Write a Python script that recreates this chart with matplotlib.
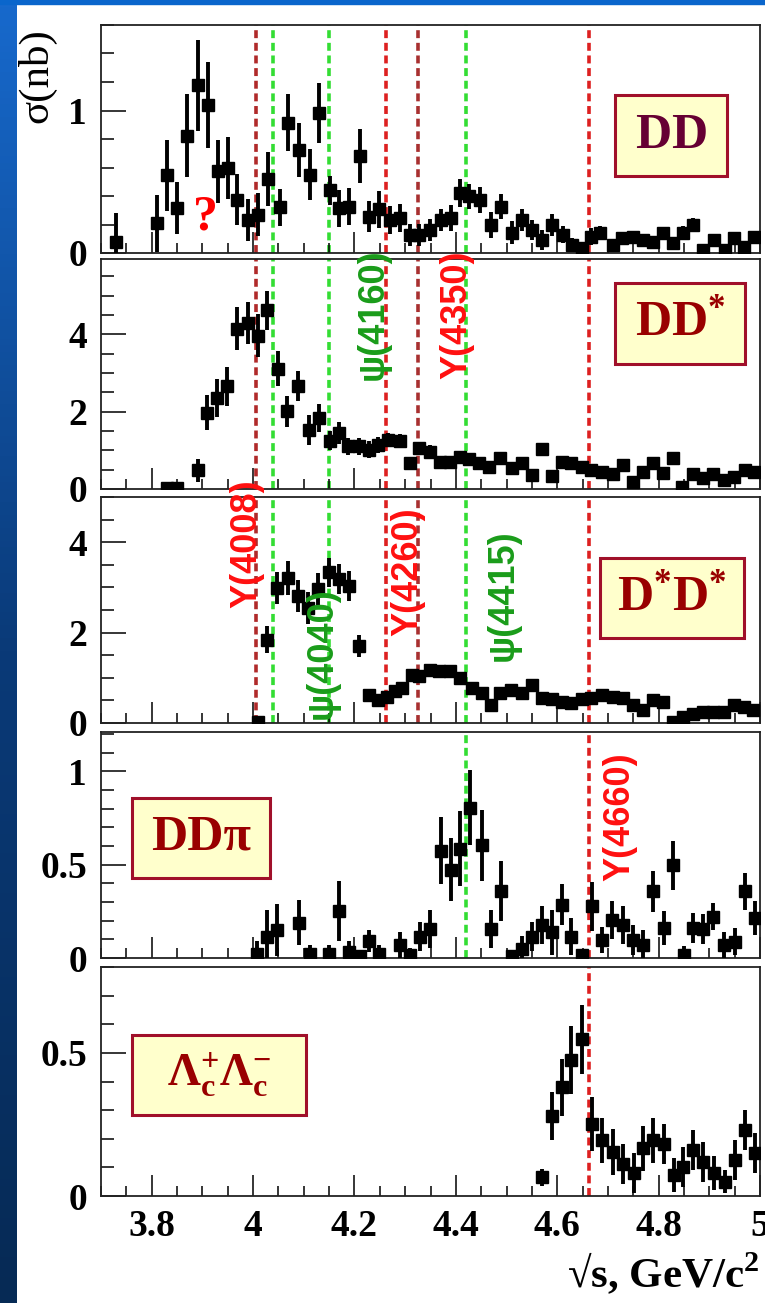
import numpy as np
import matplotlib
matplotlib.use('Agg')
import matplotlib.pyplot as plt
from matplotlib.patches import Rectangle
from matplotlib.colors import LinearSegmentedColormap
from matplotlib.ticker import MultipleLocator, FuncFormatter

plt.rcParams['mathtext.fontset'] = 'custom'
plt.rcParams['mathtext.rm'] = 'Liberation Serif'
plt.rcParams['mathtext.bf'] = 'Liberation Serif:bold'

# DD
dd_x = [3.729, 3.810, 3.830, 3.849, 3.870, 3.892, 3.912, 3.931, 3.951, 3.969, 3.990,
        4.010, 4.030, 4.053, 4.069, 4.091, 4.112, 4.131, 4.152, 4.170, 4.189, 4.210,
        4.229, 4.249, 4.270, 4.290, 4.310, 4.328, 4.349, 4.371, 4.390, 4.408, 4.426,
        4.448, 4.469, 4.490, 4.510, 4.530, 4.551, 4.570, 4.590, 4.611, 4.630, 4.648,
        4.666, 4.684, 4.710, 4.727, 4.750, 4.770, 4.789, 4.809, 4.829, 4.849, 4.868,
        4.888, 4.910, 4.930, 4.949, 4.969, 4.989]
dd_y = [0.08, 0.21, 0.545, 0.315, 0.824, 1.176, 1.04, 0.573, 0.596, 0.373, 0.232,
        0.268, 0.52, 0.32, 0.913, 0.725, 0.55, 0.98, 0.44, 0.315, 0.326, 0.68,
        0.256, 0.307, 0.23, 0.244, 0.127, 0.127, 0.162, 0.232, 0.244, 0.42, 0.397,
        0.373, 0.197, 0.326, 0.143, 0.232, 0.162, 0.092, 0.197, 0.127, 0.056, 0.033,
        0.115, 0.139, 0.056, 0.103, 0.115, 0.092, 0.08, 0.139, 0.068, 0.139, 0.197,
        0.02, 0.092, 0.02, 0.103, 0.04, 0.11]
dd_err = [0.2, 0.2, 0.25, 0.18, 0.29, 0.32, 0.30, 0.22, 0.22, 0.18, 0.15,
          0.15, 0.19, 0.13, 0.20, 0.19, 0.18, 0.21, 0.10, 0.13, 0.13, 0.19,
          0.11, 0.13, 0.10, 0.10, 0.08, 0.08, 0.08, 0.08, 0.09, 0.10, 0.09,
          0.09, 0.09, 0.09, 0.08, 0.08, 0.07, 0.07, 0.08, 0.06, 0.05, 0.03,
          0.06, 0.05, 0.04, 0.04, 0.04, 0.04, 0.04, 0.04, 0.04, 0.05, 0.05,
          0.03, 0.04, 0.02, 0.04, 0.03, 0.04]

# DD*
dds_x = [3.830, 3.850, 3.891, 3.910, 3.929, 3.949, 3.968, 3.989, 4.010, 4.028, 4.050,
         4.067, 4.089, 4.110, 4.130, 4.152, 4.170, 4.188, 4.208, 4.229, 4.247, 4.267,
         4.290, 4.310, 4.328, 4.349, 4.369, 4.388, 4.408, 4.426, 4.446, 4.466, 4.487,
         4.510, 4.530, 4.550, 4.570, 4.590, 4.609, 4.628, 4.648, 4.666, 4.688, 4.710,
         4.730, 4.750, 4.770, 4.789, 4.809, 4.829, 4.847, 4.868, 4.888, 4.908, 4.928,
         4.949, 4.970, 4.989]
dds_y = [0.03, 0.02, 0.48, 1.97, 2.35, 2.66, 4.15, 4.29, 3.97, 4.62, 3.11,
         2.01, 2.66, 1.53, 1.84, 1.25, 1.45, 1.10, 1.10, 1.01, 1.14, 1.27,
         1.23, 0.67, 1.06, 0.97, 0.71, 0.71, 0.84, 0.77, 0.68, 0.58, 0.80,
         0.54, 0.67, 0.36, 1.03, 0.34, 0.71, 0.67, 0.58, 0.49, 0.45, 0.39,
         0.62, 0.19, 0.45, 0.67, 0.42, 0.80, 0.04, 0.39, 0.28, 0.39, 0.23,
         0.32, 0.49, 0.45]
dds_err = [0.03, 0.02, 0.30, 0.45, 0.50, 0.50, 0.55, 0.55, 0.55, 0.50, 0.45,
           0.40, 0.38, 0.38, 0.36, 0.25, 0.28, 0.22, 0.22, 0.22, 0.20, 0.18,
           0.18, 0.16, 0.16, 0.16, 0.15, 0.15, 0.15, 0.13, 0.13, 0.13, 0.13,
           0.12, 0.12, 0.12, 0.12, 0.12, 0.10, 0.10, 0.10, 0.10, 0.10, 0.10,
           0.10, 0.12, 0.12, 0.10, 0.12, 0.10, 0.06, 0.10, 0.10, 0.10, 0.10,
           0.10, 0.10, 0.10]

# D*D*
dsds_x = [4.010, 4.028, 4.048, 4.069, 4.089, 4.109, 4.129, 4.150, 4.170, 4.189, 4.208,
          4.229, 4.247, 4.264, 4.280, 4.293, 4.313, 4.328, 4.349, 4.367, 4.388, 4.408,
          4.431, 4.451, 4.469, 4.487, 4.509, 4.530, 4.550, 4.569, 4.589, 4.609, 4.628,
          4.648, 4.666, 4.688, 4.710, 4.730, 4.750, 4.770, 4.789, 4.809, 4.829, 4.849,
          4.868, 4.888, 4.908, 4.928, 4.949, 4.968, 4.987]
dsds_y = [0.02, 1.84, 2.99, 3.21, 2.81, 2.55, 2.96, 3.33, 3.18, 3.03, 1.70,
          0.62, 0.51, 0.58, 0.70, 0.77, 1.07, 1.03, 1.18, 1.14, 1.14, 0.99,
          0.77, 0.66, 0.40, 0.66, 0.73, 0.66, 0.84, 0.55, 0.53, 0.47, 0.44,
          0.53, 0.55, 0.62, 0.58, 0.55, 0.40, 0.29, 0.51, 0.47, 0.03, 0.14,
          0.21, 0.25, 0.25, 0.25, 0.40, 0.36, 0.29]
dsds_err = [0.02, 0.30, 0.35, 0.38, 0.35, 0.35, 0.35, 0.33, 0.33, 0.33, 0.25,
            0.12, 0.12, 0.12, 0.12, 0.12, 0.12, 0.12, 0.12, 0.12, 0.12, 0.12,
            0.12, 0.12, 0.12, 0.11, 0.11, 0.11, 0.11, 0.11, 0.10, 0.10, 0.10,
            0.10, 0.10, 0.10, 0.10, 0.10, 0.10, 0.10, 0.10, 0.10, 0.04, 0.06,
            0.06, 0.06, 0.06, 0.06, 0.07, 0.07, 0.07]

# DDpi
ddpi_x = [4.007, 4.027, 4.048, 4.090, 4.112, 4.150, 4.170, 4.189, 4.210, 4.229, 4.249,
          4.290, 4.310, 4.330, 4.350, 4.371, 4.390, 4.408, 4.428, 4.451, 4.469, 4.490,
          4.510, 4.530, 4.550, 4.569, 4.590, 4.609, 4.628, 4.648, 4.668, 4.689, 4.709,
          4.730, 4.750, 4.770, 4.789, 4.810, 4.829, 4.850, 4.868, 4.888, 4.908, 4.928,
          4.950, 4.970, 4.990]
ddpi_y = [0.02, 0.115, 0.15, 0.19, 0.02, 0.02, 0.25, 0.03, 0.01, 0.09, 0.02,
          0.07, 0.016, 0.115, 0.156, 0.575, 0.473, 0.586, 0.805, 0.604, 0.156, 0.357,
          0.01, 0.048, 0.115, 0.177, 0.138, 0.285, 0.115, 0.016, 0.276, 0.097, 0.204,
          0.177, 0.097, 0.07, 0.357, 0.16, 0.496, 0.016, 0.16, 0.156, 0.222, 0.07,
          0.088, 0.357, 0.213]
ddpi_err = [0.07, 0.14, 0.14, 0.12, 0.05, 0.05, 0.16, 0.06, 0.03, 0.06, 0.05,
            0.07, 0.04, 0.08, 0.10, 0.18, 0.17, 0.20, 0.20, 0.19, 0.10, 0.16,
            0.03, 0.07, 0.08, 0.10, 0.12, 0.11, 0.10, 0.03, 0.13, 0.07, 0.10,
            0.10, 0.08, 0.08, 0.11, 0.09, 0.13, 0.05, 0.08, 0.08, 0.07, 0.07,
            0.07, 0.10, 0.09]

# Lambda_c+ Lambda_c-
lc_x = [4.570, 4.590, 4.609, 4.628, 4.648, 4.669, 4.689, 4.710, 4.730, 4.751, 4.770,
        4.789, 4.810, 4.830, 4.849, 4.868, 4.888, 4.909, 4.930, 4.950, 4.970, 4.990]
lc_y = [0.065, 0.28, 0.38, 0.475, 0.547, 0.252, 0.194, 0.154, 0.113, 0.079, 0.166,
        0.194, 0.183, 0.073, 0.102, 0.16, 0.119, 0.081, 0.05, 0.125, 0.229, 0.15]
lc_err = [0.03, 0.085, 0.10, 0.12, 0.12, 0.095, 0.08, 0.08, 0.07, 0.07, 0.08,
          0.08, 0.07, 0.06, 0.07, 0.07, 0.07, 0.06, 0.04, 0.07, 0.07, 0.07]

# resonances
res_names = ['Y(4008)', 'ψ(4040)', 'ψ(4160)', 'Y(4260)', 'Y(4350)', 'ψ(4415)', 'Y(4660)']
res_mass = [4.006, 4.040, 4.150, 4.262, 4.326, 4.420, 4.663]

W, H = 765, 1303
fig = plt.figure(figsize=(W / 100, H / 100), dpi=100)
fig.patch.set_facecolor('white')

# slide background strips
strip = fig.add_axes([0, 0, 17 / W, 1])
strip.imshow(np.linspace(0, 1, 200)[:, None], aspect='auto',
             cmap=LinearSegmentedColormap.from_list('slide', ['#1769cc', '#0a3a78', '#062a55']))
strip.axis('off')
fig.add_artist(Rectangle((0, 1 - 4 / H), 1, 4 / H, transform=fig.transFigure,
                         color='#0a66cc', zorder=5))


def fig_rect(x0, top, x1, bottom):
    return [x0 / W, 1 - bottom / H, (x1 - x0) / W, (bottom - top) / H]


tick_font = dict(family='Liberation Serif', weight='bold', size=27)

panels = [
    # data, y-range, major, minor, pixel top/bottom, resonance lines drawn
    (dd_x, dd_y, dd_err, 1.6, 1, 0.2, 25, 253, [0, 1, 2, 3, 4, 5, 6]),
    (dds_x, dds_y, dds_err, 5.95, 2, 0.5, 259, 489, [0, 1, 2, 3, 4, 5, 6]),
    (dsds_x, dsds_y, dsds_err, 5, 2, 0.5, 497, 723, [0, 1, 2, 3, 4, 5, 6]),
    (ddpi_x, ddpi_y, ddpi_err, 1.21, 0.5, 0.1, 732, 958, [5, 6]),
    (lc_x, lc_y, lc_err, 0.8, 0.5, 0.1, 967, 1196, [6]),
]
line_colors = ['#b02a2a', '#33dd33', '#33dd33', '#dd2020', '#a83030', '#33dd33', '#dd2020']

axes = []
for i, (x, y, err, ymax, major, minor, top, bottom, lines) in enumerate(panels):
    ax = fig.add_axes(fig_rect(101, top, 760, bottom))
    ax.set_facecolor('none')
    for j in lines:
        ax.axvline(res_mass[j], color=line_colors[j], lw=2.6,
                   linestyle=(0, (2.2, 1.3)), zorder=1)
    ax.errorbar(x, y, yerr=err, xerr=0.007, fmt='s', color='black', ms=8.5,
                elinewidth=2.8, capsize=0, zorder=3)
    ax.set_xlim(3.7, 5.0)
    ax.set_ylim(0, ymax)
    ax.xaxis.set_major_locator(MultipleLocator(0.2))
    ax.xaxis.set_minor_locator(MultipleLocator(0.05))
    ax.yaxis.set_major_locator(MultipleLocator(major))
    ax.yaxis.set_minor_locator(MultipleLocator(minor))
    ax.yaxis.set_major_formatter(FuncFormatter(lambda v, p: '%g' % v))
    ax.xaxis.set_major_formatter(FuncFormatter(lambda v, p: '%g' % v))
    ax.tick_params(axis='y', which='major', direction='in', length=18, width=1.1, pad=10)
    ax.tick_params(axis='y', which='minor', direction='in', length=9.5, width=1.1)
    ax.tick_params(axis='x', which='major', direction='in', length=15, width=1.1, pad=9)
    ax.tick_params(axis='x', which='minor', direction='in', length=7, width=1.1)
    ax.tick_params(axis='x', labelbottom=(i == len(panels) - 1))
    for lab in ax.get_xticklabels() + ax.get_yticklabels():
        lab.set_fontproperties(tick_font)
    for sp in ax.spines.values():
        sp.set_linewidth(1.3)
        sp.set_color('#222222')
    axes.append(ax)

# channel boxes
boxes = [
    ((615, 95, 727, 176), r'$\mathbf{DD}$', '#660033', 36),
    ((615, 283, 745, 364), r'$\mathbf{DD^{*}}$', '#990000', 36),
    ((600, 558, 744, 638), r'$\mathbf{D^{*}D^{*}}$', '#990000', 36),
    ((132, 798, 270, 878), 'DDπ', '#990000', 36),
    ((132, 1035, 306, 1115), r'$\mathbf{\Lambda_{c}^{+}\Lambda_{c}^{-}}$', '#990000', 33),
]
for (x0, y0, x1, y1), label, col, size in boxes:
    fig.add_artist(Rectangle((x0 / W, 1 - y1 / H), (x1 - x0) / W, (y1 - y0) / H,
                             transform=fig.transFigure, facecolor='#ffffcc',
                             edgecolor='#a0102a', lw=2.2, zorder=6))
    fig.text((x0 + x1) / 2 / W, 1 - (y0 + y1) / 2 / H, label, color=col,
             family='Liberation Serif', weight='bold', fontsize=size,
             ha='center', va='center', zorder=7)

fig.text(205 / W, 1 - 218 / H, '?', color='#ff0000', family='Liberation Serif',
         weight='bold', fontsize=36, ha='center', va='center')

# resonance labels
res_labels = [
    (0, 247, 544, '#ff1010'),
    (1, 322, 653, '#1a9c1a'),
    (2, 373, 314, '#1a9c1a'),
    (3, 408, 572, '#ff1010'),
    (4, 457, 315, '#ff1010'),
    (5, 503, 595, '#1a9c1a'),
    (6, 620, 817, '#ff1010'),
]
for j, xc, yc, col in res_labels:
    fig.text(xc / W, 1 - yc / H, res_names[j], rotation=90, color=col,
             family='Liberation Sans', weight='bold', fontsize=26,
             ha='center', va='center', zorder=8)

fig.text(37 / W, 1 - 76 / H, 'σ(nb)', rotation=90, family='Liberation Serif',
         fontsize=31, ha='center', va='center')
fig.text(760 / W, 1 - 1288 / H, r'√s, GeV/c$^{\mathbf{2}}$', family='Liberation Serif',
         weight='bold', fontsize=31, ha='right', va='baseline')

fig.savefig('out.png', dpi=100)
